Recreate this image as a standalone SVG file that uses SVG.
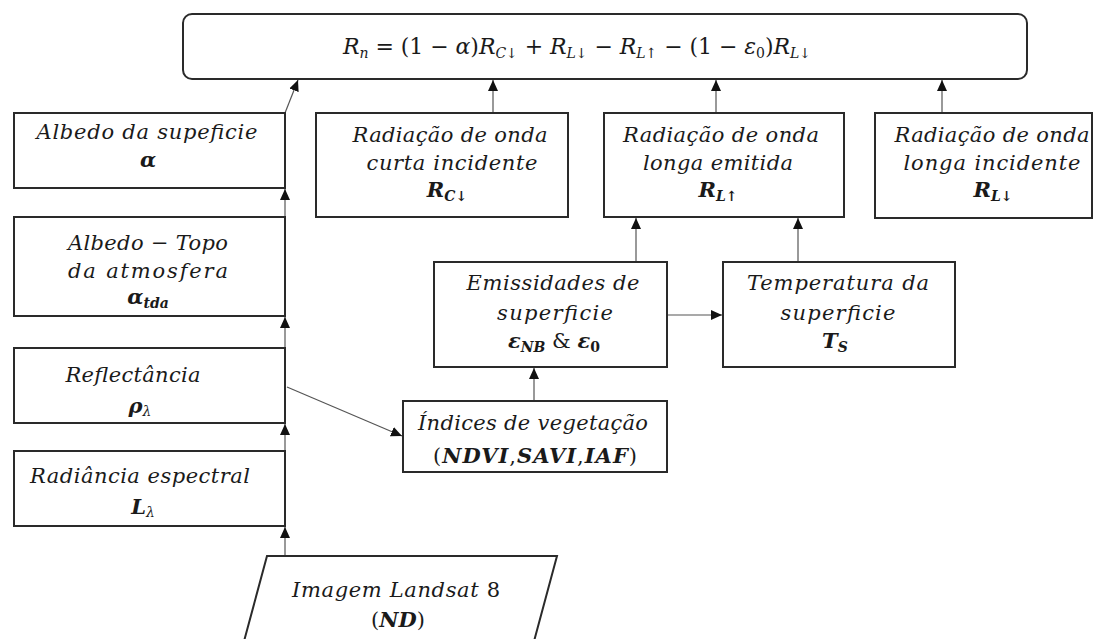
<svg xmlns="http://www.w3.org/2000/svg" width="1098" height="639" viewBox="0 0 1098 639">
<style>
.box{fill:#fff;stroke:#2a2a2a;stroke-width:2}
.t{font-family:"DejaVu Serif","Liberation Serif",serif;font-size:21px;font-style:italic;fill:#1a1a1a;text-anchor:middle}
.f{font-size:22px}
.b{font-weight:bold}
.u{font-style:normal}
.s{font-size:14px}
.c{fill:none;stroke:#555;stroke-width:1.2}
</style>
<defs>
<marker id="ah" markerUnits="userSpaceOnUse" markerWidth="12" markerHeight="12" viewBox="0 0 12 12" refX="11" refY="6" orient="auto">
<path d="M0,1 L11,6 L0,11 Z" fill="#111"/>
</marker>
</defs>
<rect width="1098" height="639" fill="#fff"/>

<g id="connectors">
<line class="c" x1="285" y1="556" x2="285" y2="527" marker-end="url(#ah)"/>
<line class="c" x1="285" y1="451" x2="285" y2="424" marker-end="url(#ah)"/>
<line class="c" x1="285" y1="348" x2="285" y2="317" marker-end="url(#ah)"/>
<line class="c" x1="285" y1="217" x2="285" y2="189" marker-end="url(#ah)"/>
<line class="c" x1="285" y1="113" x2="298" y2="80" marker-end="url(#ah)"/>
<line class="c" x1="493" y1="113" x2="493" y2="80" marker-end="url(#ah)"/>
<line class="c" x1="716" y1="113" x2="716" y2="80" marker-end="url(#ah)"/>
<line class="c" x1="942" y1="113" x2="942" y2="80" marker-end="url(#ah)"/>
<line class="c" x1="287" y1="387" x2="402" y2="436" marker-end="url(#ah)"/>
<line class="c" x1="534" y1="401" x2="534" y2="368" marker-end="url(#ah)"/>
<line class="c" x1="636" y1="262" x2="636" y2="218" marker-end="url(#ah)"/>
<line class="c" x1="798" y1="262" x2="798" y2="218" marker-end="url(#ah)"/>
<line class="c" x1="667" y1="315" x2="722" y2="315" marker-end="url(#ah)"/>
</g>

<g id="net-radiation">
<rect class="box" x="183" y="14" width="844" height="65" rx="9"/>
<text class="t f" x="577" y="54" textLength="468"><tspan>R</tspan><tspan class="s" dy="4">n</tspan><tspan class="u" dy="-4"> = (1 − </tspan><tspan>α</tspan><tspan class="u">)</tspan><tspan>R</tspan><tspan class="s" dy="4">C↓</tspan><tspan class="u" dy="-4"> + </tspan><tspan>R</tspan><tspan class="s" dy="4">L↓</tspan><tspan class="u" dy="-4"> − </tspan><tspan>R</tspan><tspan class="s" dy="4">L↑</tspan><tspan class="u" dy="-4"> − (1 − </tspan><tspan>ε</tspan><tspan class="s u" dy="4">0</tspan><tspan class="u" dy="-4">)</tspan><tspan>R</tspan><tspan class="s" dy="4">L↓</tspan></text>
</g>

<g id="albedo-superficie">
<rect class="box" x="14" y="113" width="271" height="75"/>
<text class="t" x="147" y="139" textLength="221">Albedo da supeficie</text>
<text class="t b" x="148" y="167">α</text>
</g>

<g id="albedo-topo">
<rect class="box" x="14" y="217" width="271" height="99"/>
<text class="t" x="148" y="250" textLength="160">Albedo − Topo</text>
<text class="t" x="148" y="278" textLength="160">da atmosfera</text>
<text class="t b" x="148" y="304">α<tspan class="s" dy="4">tda</tspan></text>
</g>

<g id="reflectancia">
<rect class="box" x="14" y="348" width="271" height="75"/>
<text class="t" x="133" y="382" textLength="135">Reflectância</text>
<text class="t b" x="140" y="413">ρ<tspan class="s" dy="3" font-weight="normal">λ</tspan></text>
</g>

<g id="radiancia">
<rect class="box" x="14" y="451" width="271" height="75"/>
<text class="t" x="140" y="483" textLength="220">Radiância espectral</text>
<text class="t b" x="143" y="514">L<tspan class="s" dy="3" font-weight="normal">λ</tspan></text>
</g>

<g id="landsat">
<polygon class="box" points="267,556 557,556 533,645 243,645"/>
<text class="t" x="396" y="597" textLength="208">Imagem Landsat <tspan class="u">8</tspan></text>
<text class="t" x="398" y="627"><tspan class="u">(</tspan><tspan class="b">ND</tspan><tspan class="u">)</tspan></text>
</g>

<g id="onda-curta-incidente">
<rect class="box" x="316" y="113" width="252" height="104"/>
<text class="t" x="450" y="142" textLength="195">Radiação de onda</text>
<text class="t" x="452" y="170" textLength="171">curta incidente</text>
<text class="t b" x="447" y="197">R<tspan class="s" dy="4">C↓</tspan></text>
</g>

<g id="onda-longa-emitida">
<rect class="box" x="604" y="113" width="240" height="104"/>
<text class="t" x="721" y="142" textLength="196">Radiação de onda</text>
<text class="t" x="718" y="170" textLength="150">longa emitida</text>
<text class="t b" x="718" y="197">R<tspan class="s" dy="4">L↑</tspan></text>
</g>

<g id="onda-longa-incidente">
<rect class="box" x="875" y="113" width="217" height="105"/>
<text class="t" x="992" y="142" textLength="195">Radiação de onda</text>
<text class="t" x="992" y="170" textLength="177">longa incidente</text>
<text class="t b" x="993" y="197">R<tspan class="s" dy="4">L↓</tspan></text>
</g>

<g id="emissividades">
<rect class="box" x="434" y="262" width="233" height="105"/>
<text class="t" x="553" y="290" textLength="173">Emissidades de</text>
<text class="t" x="555" y="320" textLength="116">superficie</text>
<text class="t" x="554" y="348"><tspan class="b">ε</tspan><tspan class="s b" dy="4">NB</tspan><tspan class="u" dy="-4"> &amp; </tspan><tspan class="b">ε</tspan><tspan class="s b u" dy="4">0</tspan></text>
</g>

<g id="temperatura">
<rect class="box" x="723" y="262" width="232" height="105"/>
<text class="t" x="838" y="290" textLength="182">Temperatura da</text>
<text class="t" x="838" y="320" textLength="115">superficie</text>
<text class="t b" x="835" y="348">T<tspan class="s" dy="4">S</tspan></text>
</g>

<g id="indices">
<rect class="box" x="403" y="401" width="264" height="71"/>
<text class="t" x="533" y="430" textLength="230">Índices de vegetação</text>
<text class="t" x="535" y="463" textLength="204"><tspan class="u">(</tspan><tspan class="b">NDVI</tspan><tspan class="u">,</tspan><tspan class="b">SAVI</tspan><tspan class="u">,</tspan><tspan class="b">IAF</tspan><tspan class="u">)</tspan></text>
</g>
</svg>
